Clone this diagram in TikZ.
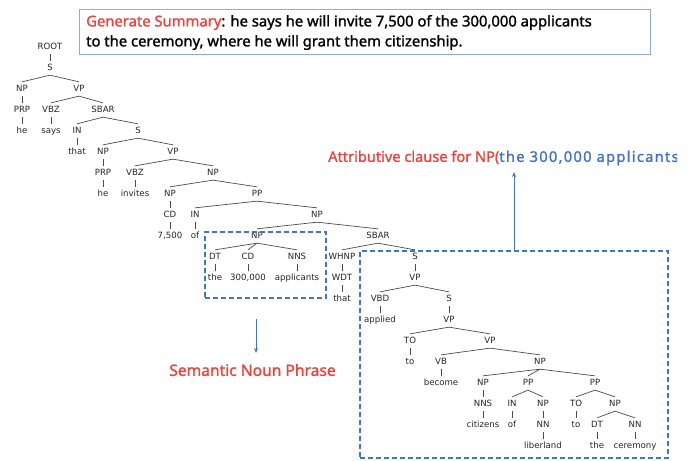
\documentclass[tikz,border=0pt]{standalone}
\usepackage{fontspec}
\setmainfont{Noto Sans}
\newfontfamily\lblfont{Noto Sans}[FakeBold=1.4]
\newfontfamily\lblwide{Noto Sans}[FakeBold=1.4,LetterSpace=9]
\newfontfamily\treefont{DejaVu Sans}
\usetikzlibrary{arrows.meta}
\definecolor{myred}{HTML}{E8453C}
\definecolor{myblue}{HTML}{4472C4}
\definecolor{boxblue}{HTML}{8FAADC}
\begin{document}
\begin{tikzpicture}[x=1pt,y=-1pt,
  t/.style={font=\treefont\fontsize{8.6}{10}\selectfont, inner xsep=1pt, inner ysep=3pt, text height=6.3pt, text depth=1.6pt, text=black!85},
  e/.style={draw=black!70, line width=0.7pt},
  dbox/.style={draw=myblue, dash pattern=on 5pt off 3pt, line width=1.4pt, inner sep=0pt},
  lbl/.style={font=\lblfont\fontsize{14.8}{20}\selectfont, inner sep=0pt},
  arr/.style={draw=myblue, line width=0.8pt, -{Stealth[length=5pt,width=4pt]}}
]
\useasboundingbox (0,0) rectangle (692,460);
\clip (0,0) rectangle (692,460);
\fill[white] (0,0) rectangle (692,460);

% summary box
\node[draw=boxblue, line width=0.9pt, minimum width=571pt, minimum height=45pt, inner sep=0pt] (sum) at (364.5,31.5) {};
\node[lbl, anchor=west, align=left] (sumtext) at (86,32.5) {\textcolor{myred}{Generate Summary}: he says he will invite 7,500 of the 300,000 applicants\\to the ceremony, where he will grant them citizenship.};

% tree
\node[t] (ROOT) at (50,47) {ROOT};
\node[t] (S1) at (50,68) {S};
\node[t] (NP1) at (22,89) {NP};
\node[t] (VP1) at (79,89) {VP};
\node[t] (PRP1) at (22,110) {PRP};
\node[t] (VBZ1) at (51,110) {VBZ};
\node[t] (SBAR1) at (103,110) {SBAR};
\node[t] (he1) at (22,131) {he};
\node[t] (says) at (51,131) {says};
\node[t] (IN1) at (77,131) {IN};
\node[t] (S2) at (138,131) {S};
\node[t] (that1) at (77,152) {that};
\node[t] (NP2) at (103,152) {NP};
\node[t] (VP2) at (173,152) {VP};
\node[t] (PRP2) at (103,173) {PRP};
\node[t] (VBZ2) at (135,173) {VBZ};
\node[t] (NP3) at (213,173) {NP};
\node[t] (he2) at (103,194) {he};
\node[t] (invites) at (135,194) {invites};
\node[t] (NP4) at (170,194) {NP};
\node[t] (PP1) at (257,194) {PP};
\node[t] (CD1) at (170,215) {CD};
\node[t] (IN2) at (195,215) {IN};
\node[t] (NP5) at (317,215) {NP};
\node[t] (n7500) at (170,236) {7,500};
\node[t] (of1) at (195,236) {of};
\node[t] (NP6) at (257,236) {NP};
\node[t] (SBAR2) at (378,236) {SBAR};
\node[t] (DT1) at (215,257) {DT};
\node[t] (CD2) at (248,257) {CD};
\node[t] (NNS1) at (297,257) {NNS};
\node[t] (WHNP) at (342,257) {WHNP};
\node[t] (S3) at (415,257) {S};
\node[t] (the1) at (215,278) {the};
\node[t] (n300000) at (248,278) {300,000};
\node[t] (applicants) at (297,278) {applicants};
\node[t] (WDT) at (342,278) {WDT};
\node[t] (VP3) at (415,278) {VP};
\node[t] (that2) at (342,299) {that};
\node[t] (VBD) at (380,299) {VBD};
\node[t] (S4) at (449,299) {S};
\node[t] (applied) at (380,320) {applied};
\node[t] (VP4) at (449,320) {VP};
\node[t] (TO1) at (410,341) {TO};
\node[t] (VP5) at (490,341) {VP};
\node[t] (to1) at (410,362) {to};
\node[t] (VB) at (441,362) {VB};
\node[t] (NP7) at (540,362) {NP};
\node[t] (become) at (441,383) {become};
\node[t] (NP8) at (483,383) {NP};
\node[t] (PP2) at (528,383) {PP};
\node[t] (PP3) at (595,383) {PP};
\node[t] (NNS2) at (483,404) {NNS};
\node[t] (IN3) at (512,404) {IN};
\node[t] (NP9) at (543,404) {NP};
\node[t] (TO2) at (576,404) {TO};
\node[t] (NP10) at (615,404) {NP};
\node[t] (citizens) at (483,425) {citizens};
\node[t] (of2) at (512,425) {of};
\node[t] (NN1) at (543,425) {NN};
\node[t] (to2) at (576,425) {to};
\node[t] (DT2) at (597,425) {DT};
\node[t] (NN2) at (635,425) {NN};
\node[t] (liberland) at (543,446) {liberland};
\node[t] (the2) at (597,446) {the};
\node[t] (ceremony) at (635,446) {ceremony};

\foreach \p/\c in {ROOT/S1, S1/NP1, S1/VP1, NP1/PRP1, PRP1/he1, VP1/VBZ1, VP1/SBAR1, VBZ1/says,
  SBAR1/IN1, SBAR1/S2, IN1/that1, S2/NP2, S2/VP2, NP2/PRP2, PRP2/he2, VP2/VBZ2, VP2/NP3, VBZ2/invites,
  NP3/NP4, NP3/PP1, NP4/CD1, CD1/n7500, PP1/IN2, PP1/NP5, IN2/of1, NP5/NP6, NP5/SBAR2,
  NP6/DT1, NP6/CD2, NP6/NNS1, DT1/the1, CD2/n300000, NNS1/applicants, SBAR2/WHNP, SBAR2/S3,
  WHNP/WDT, WDT/that2, S3/VP3, VP3/VBD, VP3/S4, VBD/applied, S4/VP4, VP4/TO1, VP4/VP5, TO1/to1,
  VP5/VB, VP5/NP7, VB/become, NP7/NP8, NP7/PP2, NP7/PP3, NP8/NNS2, NNS2/citizens, PP2/IN3, PP2/NP9,
  IN3/of2, NP9/NN1, NN1/liberland, PP3/TO2, PP3/NP10, TO2/to2, NP10/DT2, NP10/NN2, DT2/the2, NN2/ceremony}
  \draw[e] (\p.south) -- (\c.north);

% dashed boxes
\node[dbox, minimum width=121pt, minimum height=66pt] (box1) at (265.5,265) {};
\node[dbox, minimum width=308pt, minimum height=207pt] (box2) at (514,354.5) {};

% annotations
\node[lbl, font=\lblfont\fontsize{15.6}{20}\selectfont, text=myred] (snp) at (252.5,370) {Semantic Noun Phrase};
\coordinate (a1s) at (256,319);
\coordinate (a1e) at (256,353);
\draw[arr] (a1s) -- (a1e);

\begin{scope}
\clip (0,0) rectangle (677,460);
\node[lbl, font=\lblfont\fontsize{14.6}{20}\selectfont, anchor=west] (attr) at (328,158) {\textcolor{myred}{Attributive clause for NP(}\textcolor{myblue}{\lblwide the 300,000 applicants}};
\end{scope}
\coordinate (a2e) at (514,172);
\draw[arr] (box2.north) -- (a2e);
\end{tikzpicture}
\end{document}
